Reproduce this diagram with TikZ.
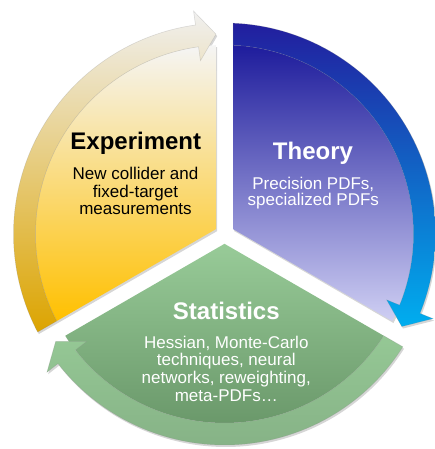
\documentclass[tikz,border=0pt]{standalone}
\usepackage{fontspec}
\setmainfont{Liberation Sans}
\definecolor{yA}{HTML}{F5F5F5}
\definecolor{yB}{HTML}{FBE3A2}
\definecolor{yC}{HTML}{FFC000}
\definecolor{ybA}{HTML}{F0F0F0}
\definecolor{ybB}{HTML}{F2D690}
\definecolor{ybC}{HTML}{DCA400}
\definecolor{bA}{HTML}{1E1C9C}
\definecolor{bB}{HTML}{6462BE}
\definecolor{bC}{HTML}{CFCFF3}
\definecolor{bbA}{HTML}{221E9E}
\definecolor{bbB}{HTML}{1860C8}
\definecolor{bbC}{HTML}{00AEEF}
\definecolor{gA}{HTML}{98CB98}
\definecolor{gB}{HTML}{82B282}
\definecolor{gC}{HTML}{6A986A}
\definecolor{gbA}{HTML}{95C895}
\definecolor{gbB}{HTML}{8DBE8D}
\definecolor{gbC}{HTML}{86B286}
\newcommand\drawseg[7]{%
  \fill[black,opacity=0.16,shift={(1.2,-2)}]
    ({#1+150}:9.815) -- ({#1+92.58}:189) arc[start angle={#1+92.58}, end angle={#1+207.42}, radius=189] -- cycle
    ({#1+207.69}:211) arc[start angle={#1+207.69}, end angle={#1+97.9}, radius=211] -- ({#1+97.9}:225) -- ({#1+92.44}:200) -- ({#1+97.9}:175) -- ({#1+97.9}:189) arc[start angle={#1+97.9}, end angle={#1+207.42}, radius=189] -- cycle;
  \shade[top color=#2, middle color=#3, bottom color=#4]
    ({#1+150}:9.815) -- ({#1+92.58}:189) arc[start angle={#1+92.58}, end angle={#1+207.42}, radius=189] -- cycle;
  \shadedraw[top color=#5, middle color=#6, bottom color=#7, draw=black!45, draw opacity=0.3, line width=0.5pt]
    ({#1+207.69}:211) arc[start angle={#1+207.69}, end angle={#1+97.9}, radius=211] -- ({#1+97.9}:225) -- ({#1+92.44}:200) -- ({#1+97.9}:175) -- ({#1+97.9}:189) arc[start angle={#1+97.9}, end angle={#1+207.42}, radius=189] -- cycle;
}
\tikzset{
  ttl/.style={anchor=base, font=\fontsize{24}{28}\selectfont\bfseries, inner sep=0pt},
  body/.style={anchor=base, font=\fontsize{17}{20}\selectfont, inner sep=0pt},
}
\begin{document}
\begin{tikzpicture}[x=1pt,y=1pt]
\fill[white] (0,0) rectangle (435,449);
\useasboundingbox (0,0) rectangle (435,449);
\coordinate (C) at (224.5,215);
\begin{scope}[shift={(C)}]
  \drawseg{0}{yA}{yB}{yC}{ybA}{ybB}{ybC}
  \drawseg{-120}{bA}{bB}{bC}{bbA}{bbB}{bbC}
  \drawseg{120}{gA}{gB}{gC}{gbA}{gbB}{gbC}
\end{scope}
% Experiment
\node[ttl, text=black] (expT) at (135.8,299) {Experiment};
\node[body, text=black] (exp1) at (135.5,269) {New collider and};
\node[body, text=black] (exp2) at (135.5,251.3) {fixed-target};
\node[body, text=black] (exp3) at (135.5,234) {measurements};
% Theory
\node[ttl, text=white] (thT) at (313,289.7) {Theory};
\node[body, text=white] (th1) at (313.3,259.7) {Precision PDFs,};
\node[body, text=white] (th2) at (313.3,243) {specialized PDFs};
% Statistics
\node[ttl, text=white] (stT) at (226.3,129.7) {Statistics};
\node[body, text=white] (st1) at (226.3,100.7) {Hessian, Monte-Carlo};
\node[body, text=white] (st2) at (226.3,83) {techniques, neural};
\node[body, text=white] (st3) at (226.3,65.3) {networks, reweighting,};
\node[body, text=white] (st4) at (226.3,47.6) {meta-PDFs…};
\end{tikzpicture}
\end{document}
